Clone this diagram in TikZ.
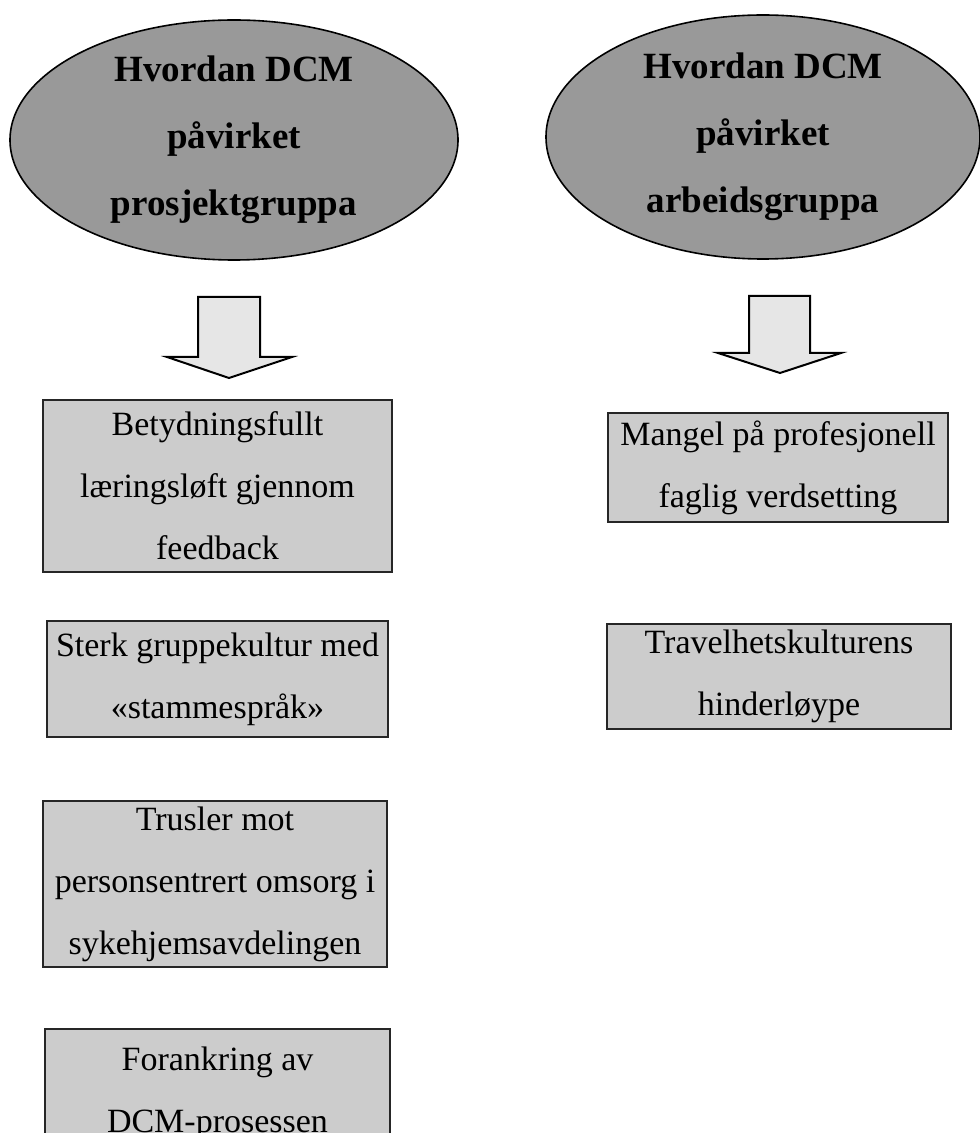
\documentclass[tikz,border=0pt]{standalone}
\usepackage{fontspec}
\setmainfont{Liberation Serif}
\usetikzlibrary{shapes.geometric}
\definecolor{temagraa}{HTML}{999999}
\definecolor{boksgraa}{HTML}{CCCCCC}
\definecolor{pilgraa}{HTML}{E6E6E6}
\begin{document}
\begin{tikzpicture}[x=0.5pt,y=-0.5pt,
  tema/.style={ellipse,draw=black,fill=temagraa,line width=0.8pt,inner sep=0pt,align=center,
    font=\fontsize{18.5}{33.5}\selectfont\bfseries},
  funn/.style={rectangle,draw=black!85,fill=boksgraa,line width=0.8pt,inner sep=0pt,align=center,
    font=\fontsize{17}{31}\selectfont},
  pil/.style={draw=black,fill=pilgraa,line width=1pt,line join=miter}]
\useasboundingbox (0,0) rectangle (979,1133);
\node[tema,minimum width=224pt,minimum height=120pt] (prosjekt) at (234,140) {Hvordan DCM\\påvirket\\prosjektgruppa};
\node[tema,minimum width=217pt,minimum height=122pt] (arbeid) at (763,137) {Hvordan DCM\\påvirket\\arbeidsgruppa};
\draw[pil] (198,297) -- (260,297) -- (260,357) -- (292,357) -- (229,378) -- (167,357) -- (198,357) -- cycle;
\draw[pil] (749,296) -- (810,296) -- (810,353) -- (841,353) -- (780,373) -- (718,353) -- (749,353) -- cycle;
\node[funn,minimum width=174.5pt,minimum height=86pt] (laering) at (217.5,486) {Betydningsfullt\\læringsløft gjennom\\feedback};
\node[funn,minimum width=170.5pt,minimum height=58pt] (kultur) at (217.5,679) {Sterk gruppekultur med\\«stammespråk»};
\node[funn,minimum width=172pt,minimum height=83pt] (trusler) at (215,884) {Trusler mot\\personsentrert omsorg i\\sykehjemsavdelingen};
\node[funn,minimum width=172.5pt,minimum height=64pt] (forankring) at (217.5,1093) {Forankring av\\DCM-prosessen};
\node[funn,minimum width=170pt,minimum height=54.5pt] (mangel) at (778,467.5) {Mangel på profesjonell\\faglig verdsetting};
\node[funn,minimum width=172pt,minimum height=52.5pt] (travelhet) at (779,676.5) {Travelhetskulturens\\hinderløype};
\end{tikzpicture}
\end{document}
